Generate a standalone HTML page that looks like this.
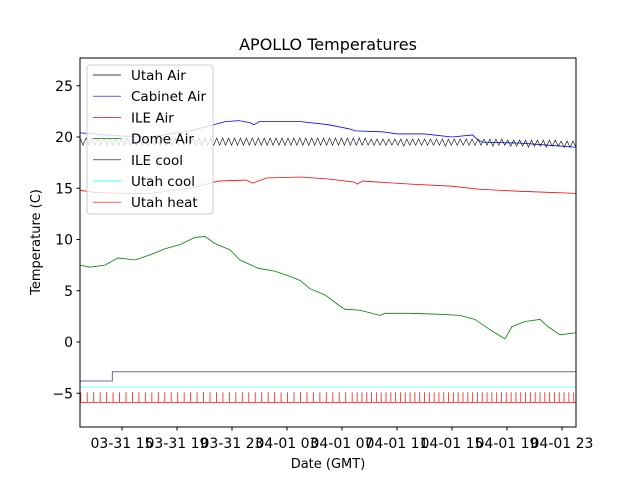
<!DOCTYPE html>
<html><head><meta charset="utf-8"><style>
body{margin:0;background:#fff}
svg{display:block;font-family:"DejaVu Sans","Liberation Sans",sans-serif}
</style></head><body>
<svg id="chart" width="640" height="480" viewBox="0 0 640 480" xmlns="http://www.w3.org/2000/svg">
<rect width="640" height="480" fill="#fff"/>
<text x="328" y="50" font-size="16" text-anchor="middle">APOLLO Temperatures</text>
<text x="328" y="468" font-size="13" text-anchor="middle">Date (GMT)</text>
<text transform="translate(40,242) rotate(-90)" font-size="13" text-anchor="middle">Temperature (C)</text>
<defs><clipPath id="pc"><rect x="80" y="58" width="496" height="369"/></clipPath></defs>
<g id="series" clip-path="url(#pc)"></g>
<g id="axes"></g>
<g id="legend"></g>
</svg>
<script>
const xTickHours=[15,19,23,27,31,35,39,43,47];
const xTickLabels=["03-31 15","03-31 19","03-31 23","04-01 03","04-01 07","04-01 11","04-01 15","04-01 19","04-01 23"];
const yTicks=[-5,0,5,10,15,20,25];
const cabinetH=[11.95,13,15,17,20,22.5,23.5,24.3,24.6,25,28,30,31.5,32,34,35,37,39,40.5,40.8,41.2,44,46,48.02];
const cabinetV=[20.4,20.3,20.1,20.0,20.6,21.5,21.6,21.4,21.2,21.5,21.5,21.2,20.8,20.6,20.5,20.3,20.3,20.0,20.2,19.8,19.5,19.4,19.2,19.0];
const ileAirH=[11.95,13,15,17,20,22,24,24.5,25.5,28,30,31.9,32.1,32.5,36,39,41,44,48.02];
const ileAirV=[14.8,14.6,14.5,14.5,15.0,15.7,15.8,15.5,16.0,16.1,15.9,15.6,15.4,15.7,15.4,15.2,14.9,14.7,14.5];
const domeH=[11.95,12.67,13.76,14.71,15.95,17.04,18.13,19.22,20.31,21.04,21.76,22.85,23.58,24.89,26.13,27.22,27.95,28.67,29.76,30.85,31.22,32.31,33.76,34.13,35.95,38.13,39.58,40.67,41.76,42.49,42.85,43.36,44.31,45.4,45.98,46.85,48.02];
const domeV=[7.5,7.3,7.5,8.2,8.0,8.5,9.1,9.5,10.2,10.3,9.6,9.0,8.0,7.2,6.9,6.4,6.0,5.2,4.6,3.5,3.2,3.1,2.6,2.8,2.8,2.7,2.6,2.2,1.2,0.6,0.3,1.5,2.0,2.2,1.5,0.7,0.9];
const ileCoolH=[11.95,14.3,14.3,48.02];
const ileCoolV=[-3.8,-3.8,-2.9,-2.9];
const utahCoolH=[11.95,48.02];
const utahCoolV=[-4.4,-4.4];
const utahAirStartH=11.95, utahAirEndH=48.02;
const utahAirV=[19.9,19.2,19.9,19.2,19.9,19.2,19.9,19.2,19.9,19.2,19.9,19.2,19.9,19.2,19.9,19.2,19.9,19.2,19.9,19.2,19.9,19.2,19.9,19.2,19.9,19.2,19.9,19.2,19.9,19.2,19.9,19.2,19.9,19.2,19.9,19.2,19.9,19.2,19.9,19.2,19.9,19.2,19.9,19.2,19.9,19.2,19.9,19.2,19.9,19.2,19.9,19.2,19.9,19.2,19.9,19.2,19.9,19.2,19.9,19.2,19.9,19.2,19.9,19.2,19.9,19.2,19.9,19.2,19.9,19.2,19.9,19.2,19.9,19.2,19.9,19.2,19.9,19.2,19.9,19.2,19.9,19.2,19.9,19.2,19.9,19.2,19.9,19.2,19.9,19.2,19.9,19.2,19.9,19.2,19.9,19.2,19.9,19.2,19.8,19.2,19.8,19.2,19.8,19.2,19.8,19.2,19.8,19.2,19.8,19.1,19.8,19.2,19.8,19.2,19.8,19.2,19.8,19.2,19.8,19.2,19.8,19.2,19.8,19.1,19.8,19.2,19.8,19.2,19.8,19.2,19.8,19.2,19.8,19.2,19.8,19.2,19.8,19.2,19.8,19.1,19.8,19.2,19.8,19.2,19.7,19.1,19.7,19.1,19.7,19.1,19.7,19.0,19.7,19.1,19.7,19.1,19.7,19.0,19.7,19.1,19.7,19.1,19.6,19.0,19.6,19.0,19.6,19.0];
const heatTimes=[12.0,12.47,12.94,13.41,13.88,14.35,14.82,15.29,15.76,16.23,16.7,17.17,17.64,18.11,18.58,19.05,19.52,19.99,20.46,20.93,21.4,21.87,22.34,22.81,23.28,23.75,24.22,24.69,25.16,25.63,26.1,26.57,27.04,27.51,27.98,28.45,28.92,29.39,29.86,30.33,30.8,31.27,31.74,32.1,32.45,32.8,33.15,33.5,33.85,34.2,34.55,34.9,35.25,35.6,35.95,36.3,36.65,37.0,37.35,37.7,38.05,38.4,38.75,39.1,39.45,39.8,40.15,40.5,40.85,41.2,41.55,41.9,42.25,42.6,42.95,43.3,43.65,44.0,44.35,44.7,45.05,45.4,45.75,46.1,46.45,46.8,47.15,47.5,47.85];
const heatLow=-5.9, heatHigh=-4.9;

const NS="http://www.w3.org/2000/svg";
const X=h=>122+(h-15)*13.75;
const Y=v=>342-10.25*v;
function mk(tag,attrs,parent){const e=document.createElementNS(NS,tag);for(const k in attrs)e.setAttribute(k,attrs[k]);parent.appendChild(e);return e;}
const S=document.getElementById('series'),A=document.getElementById('axes'),L=document.getElementById('legend');
function line(hs,vs,color,name,w){
  const d=hs.map((h,i)=>(i?'L':'M')+X(h).toFixed(2)+','+Y(vs[i]).toFixed(2)).join('');
  const p=mk('path',{d:d,fill:'none',stroke:color,'stroke-width':w||0.8},S);
  
  
}
line(utahCoolH,utahCoolV,'#80ffff','utah-cool-line',1);
line(ileCoolH,ileCoolV,'#6a6aa8','ile-cool-line',1);
line(domeH,domeV,'#008000','dome-air-line');
line(ileAirH,ileAirV,'#ff0000','ile-air-line');
line(cabinetH,cabinetV,'#0000ff','cabinet-air-line');
const uStep=(utahAirEndH-utahAirStartH)/(utahAirV.length-1);
line(utahAirV.map((v,i)=>utahAirStartH+i*uStep),utahAirV,'#000000','utah-air-line',0.6);
let hd='';
heatTimes.forEach((t,i)=>{const x=X(t);const xn=i<heatTimes.length-1?X(heatTimes[i+1]):576;hd+=`M${x.toFixed(2)},${Y(heatLow)}L${x.toFixed(2)},${Y(heatHigh)}M${x.toFixed(2)},${Y(heatLow)}L${xn.toFixed(2)},${Y(heatLow)}`;});
const hp=mk('path',{d:hd,fill:'none',stroke:'#ff3030','stroke-width':0.9},S);



const fr=mk('rect',{x:80,y:58,width:496,height:369,fill:'none',stroke:'#000','stroke-width':1},A);


yTicks.forEach(v=>{const y=Y(v);mk('line',{x1:76.5,x2:80,y1:y,y2:y,stroke:'#000'},A);
  const t=mk('text',{x:73,y:y+5,'font-size':14,'text-anchor':'end'},A);t.textContent=v<0?'\u2212'+(-v):String(v);
  
  });
xTickHours.forEach((h,i)=>{const x=X(h);mk('line',{x1:x,x2:x,y1:427,y2:430.5,stroke:'#000'},A);
  const t=mk('text',{x:x,y:448,'font-size':14,'text-anchor':'middle'},A);t.textContent=xTickLabels[i];
  
  });

const lb=mk('rect',{x:87,y:65,width:126,height:149,rx:3,fill:'#fff','fill-opacity':0.8,stroke:'#ccc'},L);


const legNames=['Utah Air','Cabinet Air','ILE Air','Dome Air','ILE cool','Utah cool','Utah heat'];
const legColors=['#000000','#0000ff','#ff0000','#008000','#000080','#00ffff','#ff0000'];
legNames.forEach((n,i)=>{const y=75+i*21.2;
  const g=mk('g',{},L);
  
  
  mk('line',{x1:93,x2:121,y1:y,y2:y,stroke:legColors[i],'stroke-width':0.7},g);
  const t=mk('text',{x:131,y:y+5,'font-size':13.5},g);t.textContent=n;});
</script>
</body></html>
